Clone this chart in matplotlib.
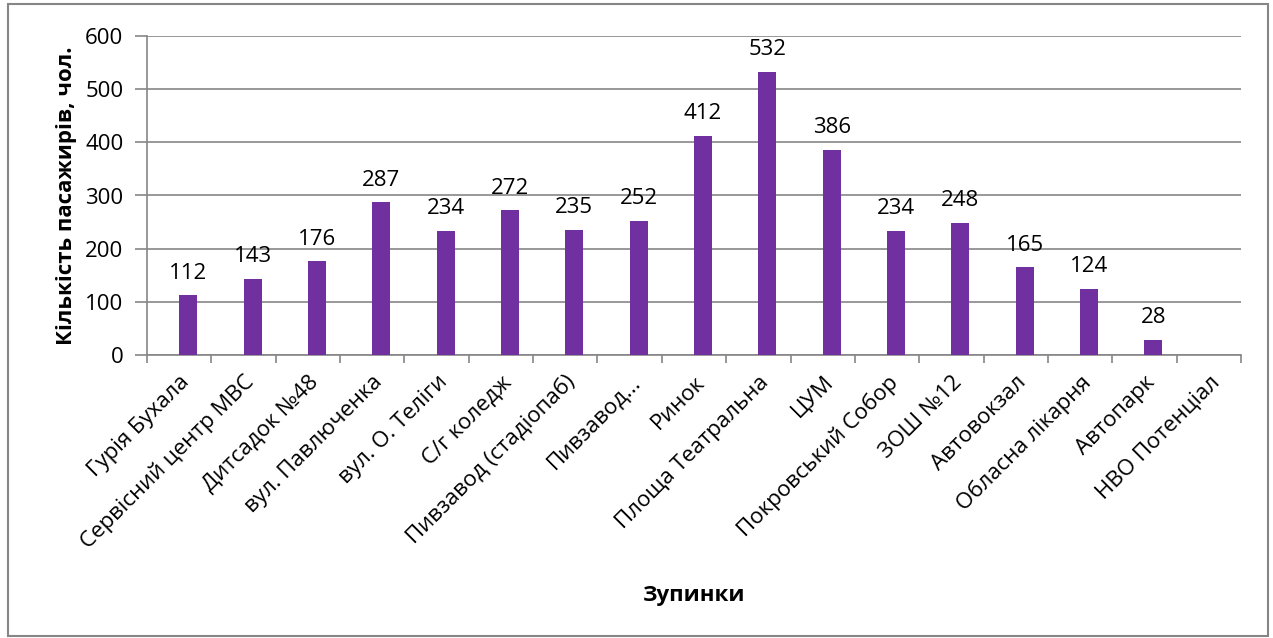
import matplotlib.pyplot as plt
import numpy as np
from matplotlib.patches import Rectangle

plt.rcParams['font.family'] = ['Open Sans', 'DejaVu Sans']

# зупинки маршруту та кількість пасажирів
stops = ['Гурія Бухала', 'Сервісний центр МВС', 'Дитсадок №48', 'вул. Павлюченка',
         'вул. О. Теліги', 'С/г коледж', 'Пивзавод (стадіопаб)', 'Пивзавод...',
         'Ринок', 'Площа Театральна', 'ЦУМ', 'Покровський Собор', 'ЗОШ №12',
         'Автовокзал', 'Обласна лікарня', 'Автопарк', 'НВО Потенціал']
passengers = [112, 143, 176, 287, 234, 272, 235, 252, 412, 532, 386, 234, 248,
              165, 124, 28, None]

fs = 16
bar_w = 0.28

fig = plt.figure(figsize=(12.73, 6.38), dpi=100)
ax = fig.add_axes([147 / 1273, 1 - 355 / 638, (1241 - 147) / 1273, (355 - 36) / 638])

x = np.arange(len(stops))
vals = [v if v is not None else 0 for v in passengers]
# стовпчики зсунуті вправо на половину ширини (друга серія в кластері)
bx = x + bar_w / 2
ax.bar(bx, vals, width=bar_w, color='#7030A0', zorder=3)

for xi, v in zip(bx, passengers):
    if v is None:
        continue
    ax.text(xi, v + 22, str(v), ha='center', va='bottom', fontsize=fs)

ax.set_xlim(-0.5, len(stops) - 0.5)
ax.set_ylim(0, 600)
ax.set_yticks(range(0, 601, 100))
ax.yaxis.grid(True, color='#868686', linewidth=1.2, zorder=0)
ax.tick_params(axis='y', length=9, color='#868686', width=1.2, labelsize=fs, pad=8)

# мітки між категоріями, підписи по центру
ax.set_xticks(np.arange(-0.5, len(stops), 1.0), minor=False)
ax.set_xticklabels([])
ax.tick_params(axis='x', which='major', length=6, color='#868686', width=1.2)
ax.set_xticks(x, minor=True)
ax.set_xticklabels(stops, minor=True, rotation=45, ha='right', rotation_mode='anchor',
                   fontsize=fs)
ax.tick_params(axis='x', which='minor', length=0, pad=12)

for side in ['top', 'right']:
    ax.spines[side].set_visible(False)
for side in ['left', 'bottom']:
    ax.spines[side].set_color('#868686')
    ax.spines[side].set_linewidth(1.2)

ax.set_ylabel('Кількість пасажирів, чол.', fontsize=fs, fontweight='bold', labelpad=6)
fig.text(694 / 1273, 1 - 595 / 638, 'Зупинки', ha='center', va='center',
         fontsize=fs, fontweight='bold')

fig.patches.append(Rectangle((8 / 1273, 2 / 638), 1260 / 1273, 632 / 638,
                             transform=fig.transFigure, fill=False,
                             edgecolor='#868686', linewidth=1.5))

fig.savefig('out.png', dpi=100)
